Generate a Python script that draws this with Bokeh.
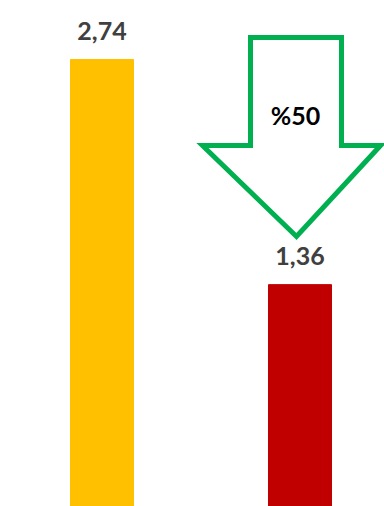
from bokeh.plotting import figure
from bokeh.models import Range1d, ColumnDataSource
from bokeh.core.properties import value
from bokeh.embed import file_html
from bokeh.resources import INLINE

# data
categories = ["Önce", "Sonra"]
positions = [1, 2]
values = [2.74, 1.36]
labels = ["2,74", "1,36"]
colors = ["#FFC000", "#C00000"]
change_label = "%50"

W, H = 384, 506
X0, X1 = 0.4874, 0.4874 + 384 / 198
Y1 = 2.74 * 506 / 447

p = figure(width=W, height=H, x_range=Range1d(X0, X1), y_range=Range1d(0, Y1),
           output_backend="svg", toolbar_location=None, min_border=0)
p.axis.visible = False
p.grid.visible = False
p.outline_line_color = None
p.background_fill_color = "white"
p.border_fill_color = "white"

src = ColumnDataSource(dict(x=positions, top=values, label=labels, color=colors))
p.vbar(x="x", top="top", bottom=0, width=63 / 198, color="color", source=src)
p.text(x="x", y="top", text="label", source=src, text_align="center",
       text_baseline="middle", y_offset=-29, text_font=value("Lato"),
       text_font_style="bold", text_font_size="25px", text_color="#404040")

# decorative arrow (pixel geometry converted to data space)
def dx(px):
    return X0 + px / 198

def dy(py):
    return (H - py) / H * Y1

arrow_px = [(250, 37), (341, 37), (341, 145), (380, 145), (296, 236),
            (202, 145), (250, 145)]
p.patch([dx(a) for a, b in arrow_px], [dy(b) for a, b in arrow_px],
        fill_color="white", line_color="#00B050", line_width=5,
        line_join="miter")
p.text(x=[dx(295)], y=[dy(114)], text=[change_label], text_align="center",
       text_baseline="middle", text_font=value("Lato"), text_font_style="bold",
       text_font_size="25px", text_color="black")

open("out.html", "w").write(file_html(p, INLINE))
